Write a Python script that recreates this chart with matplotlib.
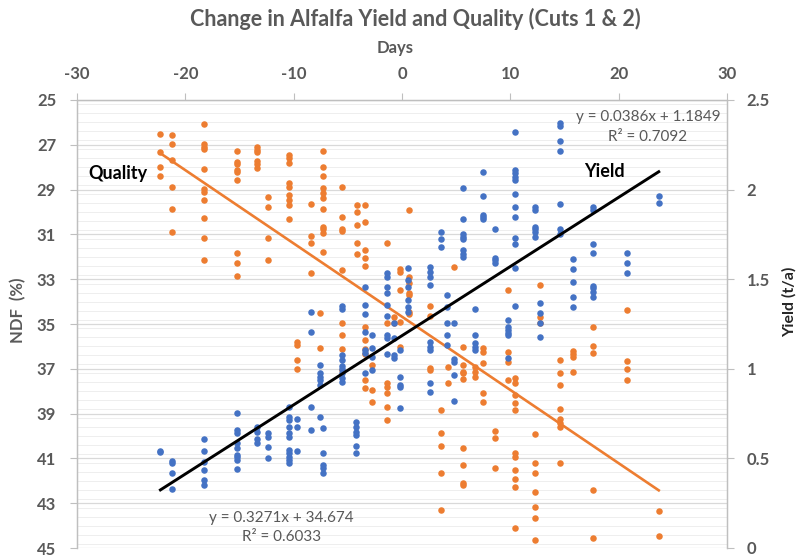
import matplotlib
matplotlib.use("Agg")
import matplotlib.pyplot as plt
import numpy as np
from matplotlib.ticker import MultipleLocator

plt.rcParams['font.family'] = ['Lato', 'DejaVu Sans']

# Sampling days (relative to cutting date) and measurements taken on each day
cut_days = [-22.3, -21.2, -18.3, -15.2, -13.4, -12.35, -10.4, -9.7, -8.4, -7.6,
            -7.3, -5.5, -4.2, -3.4, -2.8, -1.4, -0.7, -0.2, 0.6, 2.6,
            3.6, 4.2, 4.8, 5.6, 6.7, 7.5, 8.6, 9.8, 10.4, 12.3,
            12.7, 14.6, 15.8, 17.6, 20.8, 23.7]

ndf_by_day = [
    [26.5, 27.3, 28.0, 28.4],
    [26.56, 26.98, 27.68, 28.87, 29.87, 30.88],
    [26.09, 26.96, 27.08, 27.2, 28.08, 28.99, 29.09, 29.46, 30.28, 31.17, 32.14],
    [27.28, 27.78, 27.86, 28.13, 28.23, 28.57, 31.82, 32.26, 32.86],
    [27.12, 27.23, 27.34, 27.72, 27.86, 28.05],
    [29.35, 29.79, 31.15, 32.14],
    [27.46, 27.6, 27.83, 28.72, 28.87, 29.24, 29.46, 29.69, 30.31],
    [35.79, 35.94, 36.61, 37.02],
    [29.64, 31.07, 31.4, 32.71],
    [34.52, 36.09],
    [27.28, 27.98, 28.39, 28.94, 29.13, 29.38, 29.88, 30.66, 30.76, 30.95, 31.77],
    [28.9, 30.21, 30.76, 30.83, 32.59, 34.97, 35.49, 36.13, 37.05],
    [29.69, 29.99, 30.58, 31.37, 31.88],
    [29.69, 30.43, 31.7, 32.07, 32.4, 35.12, 35.71, 36.13, 36.34, 37.5, 37.87],
    [36.83, 37.95, 38.47],
    [31.4, 34.97, 37.65, 37.8, 38.09, 38.69, 39.29],
    [34.67, 34.97],
    [32.56, 32.66, 33.48, 34.9, 36.01],
    [29.91, 32.89, 33.18, 33.63, 33.71, 34.45, 34.55],
    [34.2, 34.64, 36.98, 37.05],
    [38.84, 39.88, 40.45, 41.67, 43.3],
    [36.93, 37.65],
    [32.47],
    [36.01, 36.83, 37.13, 37.2, 37.47, 40.55, 41.29, 42.11, 42.19],
    [36.9, 37.13, 37.35],
    [36.09, 36.24, 36.73, 38.09, 38.47],
    [39.76, 40.1, 41.44],
    [33.48, 36.24, 36.68, 37.5],
    [37.42, 37.65, 38.17, 38.54, 38.84, 40.77, 40.93, 41.52, 41.93, 42.26, 44.12],
    [39.91, 41.22, 41.64, 42.49, 43.16, 43.67, 44.64],
    [33.26, 34.67, 34.97],
    [36.61, 37.2, 37.72, 38.81, 39.26, 39.43, 39.58, 41.22],
    [36.19, 36.34, 36.49, 37.13],
    [35.12, 35.97, 36.31, 42.41, 44.57],
    [34.39, 36.65, 37.02, 37.51],
    [43.35, 44.45],
]

yield_by_day = [
    [0.54, 0.535],
    [0.485, 0.473, 0.417, 0.329],
    [0.607, 0.543, 0.482, 0.435, 0.379, 0.352],
    [0.755, 0.658, 0.643, 0.588, 0.556, 0.519, 0.509, 0.491, 0.439],
    [0.677, 0.649, 0.607, 0.584],
    [0.64, 0.621, 0.562, 0.504],
    [0.789, 0.733, 0.714, 0.677, 0.64, 0.621, 0.547, 0.528, 0.509, 0.491, 0.473],
    [0.718, 0.677, 0.543],
    [1.319, 1.207, 0.789, 0.658],
    [0.733, 1.021, 0.975, 0.956, 0.938, 0.91],
    [0.668, 0.528, 0.463, 0.445, 0.42],
    [1.35, 1.332, 1.077, 1.049, 1.016, 0.997, 0.975, 0.947, 0.928],
    [0.705, 0.677, 0.649, 0.631, 0.571, 0.532],
    [1.458, 1.356, 1.304, 1.207, 1.105, 1.09, 0.975],
    [1.189, 1.114, 1.068, 0.993],
    [1.533, 1.514, 1.458, 1.421, 1.356, 1.295, 1.189, 1.17, 1.083],
    [1.254, 1.17, 1.077, 1.059],
    [1.105, 0.956, 0.91, 0.9, 0.783],
    [1.561, 1.496, 1.458, 1.384, 1.347, 1.319],
    [1.57, 1.542, 1.514, 1.468, 1.151, 1.123, 1.105, 0.922, 0.872],
    [1.765, 1.723, 1.678],
    [1.412, 1.347, 1.254, 1.189, 1.133],
    [1.257, 1.053, 1.04, 0.965, 0.822],
    [2.007, 1.834, 1.752, 1.737, 1.723, 1.663, 1.641, 1.622],
    [1.332, 1.189, 1.142, 1.123, 1.105],
    [2.097, 1.966, 1.858, 1.845, 1.834],
    [1.78, 1.62, 1.607, 1.592],
    [1.272, 1.235, 1.217, 1.198, 1.189, 1.059],
    [2.323, 2.109, 2.091, 2.072, 2.054, 1.974, 1.905, 1.849, 1.728, 1.695, 1.561, 1.35],
    [1.905, 1.886, 1.793, 1.78, 1.765, 1.737],
    [1.369, 1.31, 1.254, 1.179],
    [2.37, 2.355, 2.271, 2.215, 1.918, 1.78, 1.752],
    [1.613, 1.557, 1.486, 1.399, 1.343],
    [1.905, 1.886, 1.696, 1.648, 1.462, 1.449, 1.43, 1.402],
    [1.645, 1.592, 1.536],
    [1.966, 1.924],
]

# Linear trend fits
ndf_slope, ndf_icept, ndf_r2 = 0.3271, 34.674, 0.6033
yld_slope, yld_icept, yld_r2 = 0.0386, 1.1849, 0.7092

x_ticks = [-30, -20, -10, 0, 10, 20, 30]
ndf_ticks = [25, 27, 29, 31, 33, 35, 37, 39, 41, 43, 45]
yield_ticks = [0, 0.5, 1, 1.5, 2, 2.5]
yield_tick_labels = ["0", "0.5", "1", "1.5", "2", "2.5"]

ORANGE = "#ED7D31"
BLUE = "#4472C4"
GREY_TXT = "#595959"
AXIS_GREY = "#bfbfbf"

ndf_x = np.concatenate([[d] * len(v) for d, v in zip(cut_days, ndf_by_day)])
ndf_y = np.concatenate(ndf_by_day)
yld_x = np.concatenate([[d] * len(v) for d, v in zip(cut_days, yield_by_day)])
yld_y = np.concatenate(yield_by_day)

fig = plt.figure(figsize=(8.02, 5.57), dpi=100)
ax = fig.add_axes([77 / 802, 1 - 548 / 557, 650 / 802, 448 / 557])
ax2 = ax.twinx()

# Gridlines (major every 2 %, minor every 0.4 %)
ax.set_xlim(-30, 30)
ax.set_ylim(45, 25)
ax.yaxis.set_minor_locator(MultipleLocator(0.4))
ax.grid(True, axis="y", which="major", color="#d9d9d9", lw=0.9, zorder=0)
ax.grid(True, axis="y", which="minor", color="#eeeeee", lw=0.7, zorder=0)
ax.set_axisbelow(True)

# Quality (NDF) on the left axis
ax.scatter(ndf_x, ndf_y, s=22, color=ORANGE, linewidths=0, zorder=3)
xf = np.array([min(cut_days), max(cut_days)])
ax.plot(xf, ndf_slope * xf + ndf_icept, color=ORANGE, lw=1.9, zorder=4)

# Yield on the right axis
ax2.set_ylim(0, 2.5)
ax2.scatter(yld_x, yld_y, s=22, color=BLUE, linewidths=0, zorder=3)
ax2.plot(xf, yld_slope * xf + yld_icept, color="black", lw=2.1, zorder=4)

# Axes styling
TICK_FS = 12
ax.xaxis.set_ticks_position("top")
ax.xaxis.set_label_position("top")
ax.set_xticks(x_ticks, labels=[str(t) for t in x_ticks], fontweight="bold")
ax.set_yticks(ndf_ticks, labels=[str(t) for t in ndf_ticks], fontweight="bold")
ax2.set_yticks(yield_ticks, labels=yield_tick_labels, fontweight="bold")

ax.tick_params(axis="x", which="major", length=5, color=AXIS_GREY, labelcolor=GREY_TXT,
               labelsize=TICK_FS, pad=8)
ax.tick_params(axis="y", which="major", length=5, color=AXIS_GREY, labelcolor=GREY_TXT,
               labelsize=TICK_FS, pad=10)
ax.tick_params(axis="y", which="minor", length=0)
ax2.tick_params(axis="y", length=5, color=AXIS_GREY, labelcolor=GREY_TXT,
                labelsize=TICK_FS, pad=9)

for a in (ax, ax2):
    for side in ("top", "left", "right"):
        a.spines[side].set_color(AXIS_GREY)
        a.spines[side].set_linewidth(0.9)
    a.spines["bottom"].set_visible(False)

ax.set_ylabel("NDF  (%)", fontsize=12, fontweight="bold", color=GREY_TXT)
ax.yaxis.set_label_coords(-0.078, 0.53)
ax2.set_ylabel("Yield (t/a)", fontsize=11.5, fontweight="bold", color="#262626",
               rotation=90)
ax2.yaxis.set_label_coords(1.085, 0.55)

ax.text(0.489, 1.116, "Days", transform=ax.transAxes, ha="center", va="center",
        fontsize=12, fontweight="bold", color=GREY_TXT)
fig.text(415 / 802, 1 - 19 / 557, "Change in Alfalfa Yield and Quality (Cuts 1 & 2)",
         ha="center", va="center", fontsize=15.5, fontweight="bold", color=GREY_TXT)

# Series labels
ax.text(-26.2, 28.26, "Quality", ha="center", va="center", fontsize=13,
        fontweight="bold", color="black", zorder=5)
ax.text(18.65, 28.2, "Yield", ha="center", va="center", fontsize=13,
        fontweight="bold", color="black", zorder=5)

# Trend equations
EQ_FS = 11
ax.text(-11.1, 43.66, f"y = {ndf_slope}x + {ndf_icept}", ha="center", va="center",
        fontsize=EQ_FS, color=GREY_TXT, zorder=5)
ax.text(-11.1, 44.5, f"R² = {ndf_r2}", ha="center", va="center",
        fontsize=EQ_FS, color=GREY_TXT, zorder=5)
ax.text(22.7, 25.76, f"y = {yld_slope}x + {yld_icept}", ha="center", va="center",
        fontsize=EQ_FS, color=GREY_TXT, zorder=5)
ax.text(22.7, 26.65, f"R² = {yld_r2}", ha="center", va="center",
        fontsize=EQ_FS, color=GREY_TXT, zorder=5)

fig.savefig("out.png", dpi=100)
